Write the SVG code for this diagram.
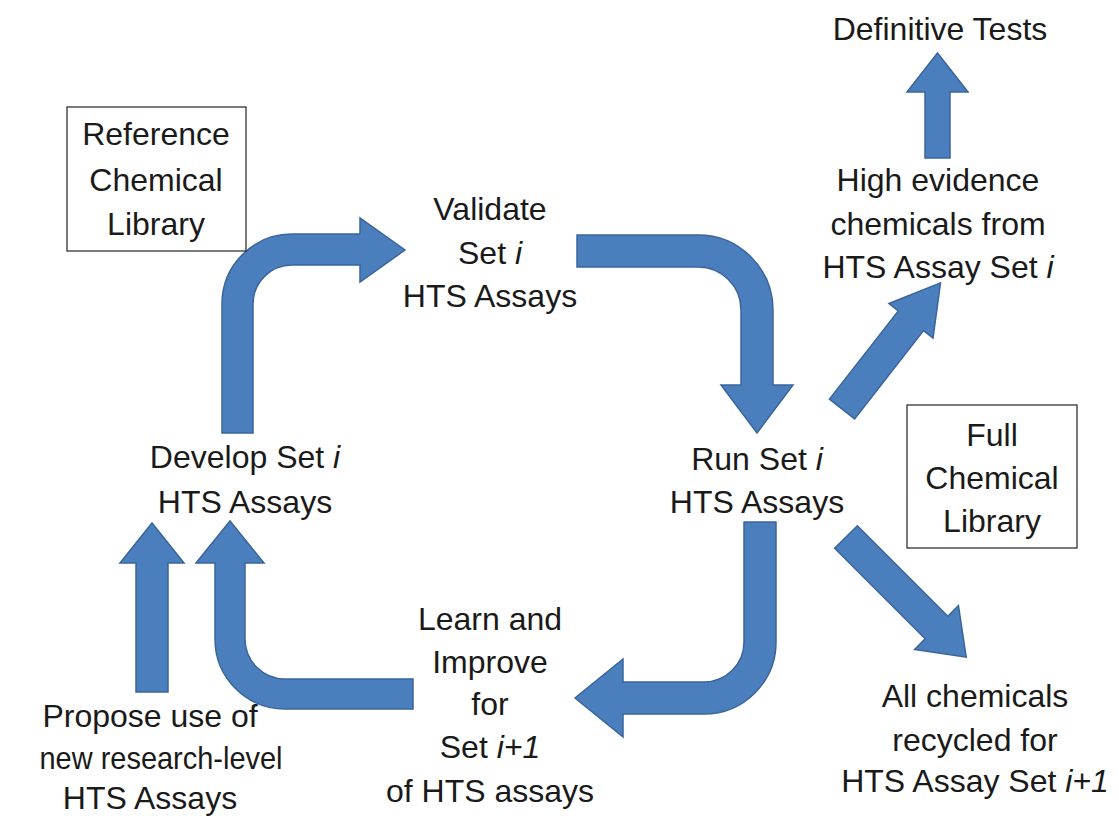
<svg xmlns="http://www.w3.org/2000/svg" width="1119" height="816" viewBox="0 0 1119 816">
<style>
text{font-family:"Liberation Sans",Arial,sans-serif;font-size:32px;fill:#1a1a1a;text-anchor:middle}
.it{font-style:italic}
.arr{fill:#4a7ebd;stroke:#3a659a;stroke-width:1.5;stroke-linejoin:miter}
.box{fill:#fff;stroke:#222;stroke-width:1.2}
</style>
<rect width="1119" height="816" fill="#fff"/>
<g id="connectors">
<path class="arr" d="M222,433 L222,304 A70,70 0 0 1 292,234 L360,234 L360,218 L405,250 L360,282 L360,265 L292,265 A39,39 0 0 0 253,304 L253,433 Z"/>
<path class="arr" d="M577,235 L698,235 A75,75 0 0 1 773,310 L773,385 L793,385 L757,433 L721,385 L741,385 L741,310 A43,43 0 0 0 698,267 L577,267 Z"/>
<path class="arr" d="M744,522 L776,522 L776,642 A72,72 0 0 1 704,714 L623,714 L623,737 L575,698 L623,659 L623,682 L704,682 A40,40 0 0 0 744,642 Z"/>
<path class="arr" d="M413,679 L285,679 A40,40 0 0 1 245,639 L245,563 L264,563 L230,521 L196,563 L215,563 L215,639 A70,70 0 0 0 285,709 L413,709 Z"/>
<path class="arr" d="M136,692 L136,563 L120,563 L152,523 L184,563 L168,563 L168,692 Z"/>
<path class="arr" d="M925,158 L925,92 L907,92 L937.5,53 L968,92 L950,92 L950,158 Z"/>
<path class="arr" transform="translate(842,409) rotate(-52)" d="M0,-16 L112,-16 L112,-28 L160,0 L112,28 L112,16 L0,16 Z"/>
<path class="arr" transform="translate(846,537) rotate(45)" d="M0,-16 L128,-16 L128,-31 L170,0 L128,31 L128,16 L0,16 Z"/>
</g>
<g id="definitive"><text x="940" y="40">Definitive Tests</text></g>
<g id="refLib">
<rect class="box" x="67" y="107" width="179" height="144"/>
<text x="156" y="145">Reference</text>
<text x="156" y="191">Chemical</text>
<text x="156" y="235">Library</text>
</g>
<g id="validate">
<text x="490" y="220">Validate</text>
<text x="490" y="264">Set <tspan class="it">i</tspan></text>
<text x="490" y="307">HTS Assays</text>
</g>
<g id="highEvidence">
<text x="938" y="191">High evidence</text>
<text x="938" y="235">chemicals from</text>
<text x="938" y="278">HTS Assay Set <tspan class="it">i</tspan></text>
</g>
<g id="fullLib">
<rect class="box" x="907" y="405" width="170" height="143"/>
<text x="992" y="446">Full</text>
<text x="992" y="489">Chemical</text>
<text x="992" y="532">Library</text>
</g>
<g id="develop">
<text x="245" y="468">Develop Set <tspan class="it">i</tspan></text>
<text x="245" y="513">HTS Assays</text>
</g>
<g id="run">
<text x="757" y="470">Run Set <tspan class="it">i</tspan></text>
<text x="757" y="513">HTS Assays</text>
</g>
<g id="learn">
<text x="490" y="630">Learn and</text>
<text x="490" y="673">Improve</text>
<text x="490" y="715">for</text>
<text x="490" y="758">Set <tspan class="it">i+1</tspan></text>
<text x="490" y="802">of HTS assays</text>
</g>
<g id="propose">
<text x="150" y="727">Propose use of</text>
<text x="161" y="769" textLength="243" lengthAdjust="spacingAndGlyphs">new research-level</text>
<text x="150" y="809">HTS Assays</text>
</g>
<g id="recycled">
<text x="975" y="707">All chemicals</text>
<text x="975" y="751">recycled for</text>
<text x="975" y="792">HTS Assay Set <tspan class="it">i+1</tspan></text>
</g>
</svg>
